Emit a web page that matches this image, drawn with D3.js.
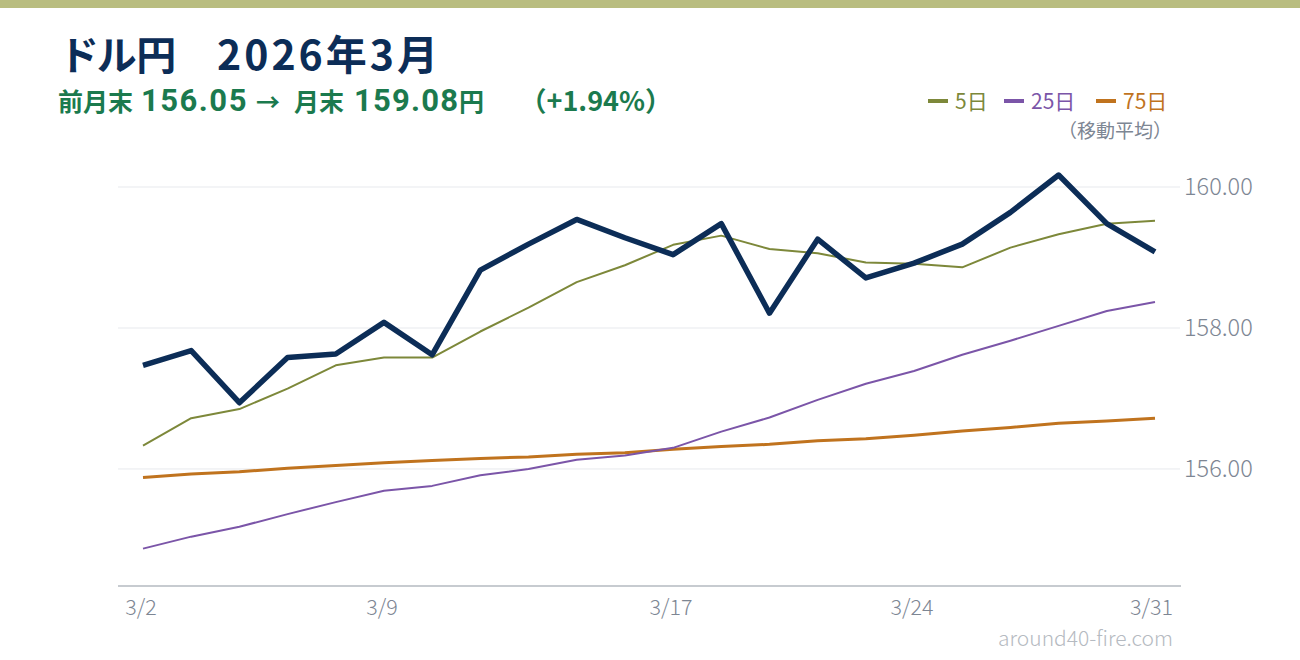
<!DOCTYPE html>
<html>
<head>
<meta charset="utf-8">
<script src="https://cdn.jsdelivr.net/npm/d3@7"></script>
<style>
  html, body { margin: 0; padding: 0; background: #ffffff; }
  svg { display: block; }
  text { font-family: "Noto Sans CJK JP", "Noto Sans", sans-serif; }
</style>
</head>
<body>
<svg id="chart" width="1300" height="660"></svg>
<script>
// ---- data ----
const dates = ["3/2","3/3","3/4","3/5","3/6","3/9","3/10","3/11","3/12","3/13",
               "3/16","3/17","3/18","3/19","3/20","3/23","3/24","3/25","3/26","3/27",
               "3/30","3/31"];
const closeValues = [157.47, 157.68, 156.94, 157.58, 157.63, 158.08, 157.62, 158.82, 159.19, 159.54,
                     159.28, 159.04, 159.48, 158.21, 159.26, 158.71, 158.92, 159.19, 159.64, 160.17,
                     159.48, 159.08];
const ma5Values = [156.33, 156.72, 156.85, 157.14, 157.47, 157.58, 157.58, 157.95, 158.29, 158.65,
                   158.89, 159.18, 159.31, 159.12, 159.06, 158.93, 158.91, 158.86, 159.14, 159.33,
                   159.48, 159.52];
const ma25Values = [154.87, 155.04, 155.18, 155.36, 155.53, 155.69, 155.76, 155.91, 156.00, 156.13,
                    156.19, 156.30, 156.53, 156.73, 156.98, 157.21, 157.39, 157.62, 157.82, 158.03,
                    158.24, 158.37];
const ma75Values = [155.88, 155.93, 155.96, 156.01, 156.05, 156.09, 156.12, 156.15, 156.17, 156.21,
                    156.23, 156.28, 156.32, 156.35, 156.40, 156.43, 156.48, 156.54, 156.59, 156.65,
                    156.68, 156.72];
const yTicks = [156, 158, 160];
const xTickLabels = ["3/2", "3/9", "3/17", "3/24", "3/31"];
const titleName = "ドル円";
const titleMonth = "2026年3月";
const subtitleParts = ["前月末", "156.05", "→", "月末", "159.08", "円"];
const changeText = "（+1.94%）";
const legendLabels = ["5日", "25日", "75日"];
const legendNote = "（移動平均）";
const credit = "around40-fire.com";

// ---- styles ----
const C = {
  bar: "#b9bd80", navy: "#0c2d57", green: "#1b7a4e",
  olive: "#7d883a", purple: "#7b55a8", orange: "#c0731e",
  grid: "#e7e9ed", axis: "#c7cbd0", tick: "#7d8693", credit: "#b5bac1"
};

const svg = d3.select("#chart");

svg.append("rect").attr("x", 0).attr("y", 0).attr("width", 1300).attr("height", 8).attr("fill", C.bar);

const x = d3.scalePoint().domain(dates).range([143, 1155]);
const y = d3.scaleLinear().domain([154.34, 160]).range([586, 187]);

// gridlines
svg.append("g").selectAll("line").data(yTicks).join("line")
  .attr("x1", 118).attr("x2", 1180)
  .attr("y1", d => y(d)).attr("y2", d => y(d))
  .attr("stroke", C.grid).attr("stroke-width", 1);

// y labels
svg.append("g").selectAll("text").data(yTicks).join("text")
  .attr("x", 1184).attr("y", d => y(d))
  .attr("dy", "0.36em")
  .attr("fill", C.tick).attr("font-size", 23.5).attr("font-weight", 300)
  .text(d => d3.format(".2f")(d));

// x axis line
svg.append("line").attr("x1", 118).attr("x2", 1181).attr("y1", 586).attr("y2", 586)
  .attr("stroke", C.axis).attr("stroke-width", 2);

// x labels
svg.append("g").selectAll("text").data(xTickLabels).join("text")
  .attr("x", (d, i) => i === xTickLabels.length - 1 ? 1173 : x(d) - 2)
  .attr("y", 615)
  .attr("text-anchor", (d, i) => i === xTickLabels.length - 1 ? "end" : "middle")
  .attr("fill", C.tick).attr("font-size", 21.5).attr("font-weight", 300)
  .text(d => d);

// lines
const lineGen = vals => d3.line().x((d, i) => x(dates[i])).y(d => y(d))(vals);
const series = [
  { v: ma75Values, c: C.orange, w: 3 },
  { v: ma25Values, c: C.purple, w: 2 },
  { v: ma5Values, c: C.olive, w: 2 },
  { v: closeValues, c: C.navy, w: 5.5 }
];
svg.append("g").selectAll("path").data(series).join("path")
  .attr("d", d => lineGen(d.v))
  .attr("fill", "none").attr("stroke", d => d.c).attr("stroke-width", d => d.w)
  .attr("stroke-linejoin", "round");

// title
svg.append("text").attr("x", 62).attr("y", 70)
  .attr("fill", C.navy).attr("font-weight", 700).attr("font-size", 40)
  .style("font-feature-settings", "'palt'")
  .text(titleName);
svg.append("text").attr("x", 217).attr("y", 70)
  .attr("fill", C.navy).attr("font-weight", 700).attr("font-size", 41)
  .attr("letter-spacing", 3)
  .text(titleMonth);

// subtitle: numbers set in Roboto (wider digits, as in the reference)
const subX = [58, 141, 256, 294, 354, 459];
const subSize = [25, 31, 24, 25, 31, 25];
const subSpacing = [0, 1.5, 0, 0, 1.2, 0];
const subFont = ["Noto Sans CJK JP", "Roboto", "Noto Sans CJK JP", "Noto Sans CJK JP", "Roboto", "Noto Sans CJK JP"];
const sub = svg.append("text").attr("y", 111)
  .attr("fill", C.green).attr("font-weight", 700);
subtitleParts.forEach((t, i) => {
  sub.append("tspan").attr("x", subX[i]).attr("font-size", subSize[i])
    .attr("letter-spacing", subSpacing[i])
    .style("font-family", `"${subFont[i]}", sans-serif`)
    .text(t);
});
svg.append("text").attr("x", 672).attr("y", 111).attr("text-anchor", "end")
  .attr("fill", C.green).attr("font-weight", 700).attr("font-size", 27)
  .text(changeText);

// legend
const legendColors = [C.olive, C.purple, C.orange];
const legendX = [928, 1004, 1096];
const lg = svg.append("g");
legendLabels.forEach((lab, i) => {
  lg.append("line").attr("x1", legendX[i]).attr("x2", legendX[i] + 20)
    .attr("y1", 101).attr("y2", 101)
    .attr("stroke", legendColors[i]).attr("stroke-width", 4);
  lg.append("text").attr("x", legendX[i] + 27).attr("y", 101).attr("dy", "0.36em")
    .attr("fill", legendColors[i]).attr("font-size", 21).attr("font-weight", 400)
    .text(lab);
});
svg.append("text").attr("x", 1172).attr("y", 131).attr("dy", "0.36em")
  .attr("text-anchor", "end")
  .attr("fill", C.tick).attr("font-size", 19).attr("font-weight", 400)
  .text(legendNote);

svg.append("text").attr("x", 1173).attr("y", 638).attr("dy", "0.36em")
  .attr("text-anchor", "end")
  .attr("fill", C.credit).attr("font-size", 21).attr("font-weight", 300)
  .text(credit);
</script>
</body>
</html>
